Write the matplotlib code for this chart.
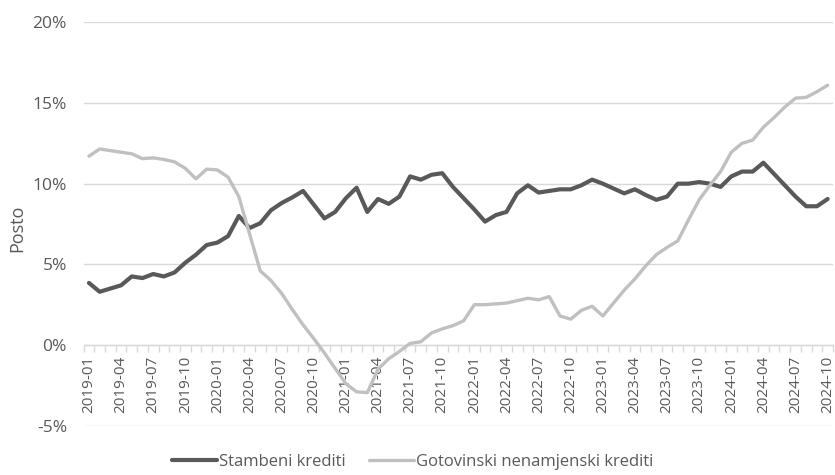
import matplotlib
matplotlib.use("Agg")
import matplotlib.pyplot as plt
from matplotlib.ticker import FixedLocator, FuncFormatter

# Monthly periods, 2019-01 .. 2024-10
months = [f"{y}-{m:02d}" for y in range(2019, 2025) for m in range(1, 13)][:70]

# Stambeni krediti (annual growth, %)
stambeni = [
    3.85, 3.3, 3.5, 3.7, 4.25, 4.15, 4.4, 4.25, 4.5, 5.1, 5.6, 6.2,
    6.35, 6.75, 8.0, 7.25, 7.55, 8.35, 8.8, 9.15, 9.55, 8.7, 7.85, 8.25,
    9.1, 9.75, 8.25, 9.05, 8.75, 9.2, 10.45, 10.25, 10.55, 10.65, 9.8, 9.1,
    8.4, 7.65, 8.05, 8.25, 9.4, 9.9, 9.45, 9.55, 9.65, 9.65, 9.9, 10.25,
    10.0, 9.7, 9.4, 9.65, 9.3, 9.0, 9.2, 10.0, 10.0, 10.1, 10.0, 9.8,
    10.45, 10.75, 10.75, 11.3, 10.6, 9.9, 9.2, 8.6, 8.6, 9.05,
]

# Gotovinski nenamjenski krediti (annual growth, %)
gotovinski = [
    11.7, 12.15, 12.05, 11.95, 11.85, 11.55, 11.6, 11.5, 11.35, 10.95, 10.3, 10.9,
    10.85, 10.4, 9.2, 6.9, 4.6, 4.0, 3.2, 2.2, 1.25, 0.4, -0.5, -1.45,
    -2.4, -2.9, -2.95, -1.5, -0.85, -0.4, 0.1, 0.2, 0.75, 1.0, 1.2, 1.5,
    2.5, 2.5, 2.55, 2.6, 2.75, 2.9, 2.8, 3.0, 1.8, 1.6, 2.15, 2.4,
    1.8, 2.6, 3.4, 4.1, 4.9, 5.6, 6.05, 6.45, 7.75, 9.0, 9.9, 10.75,
    11.95, 12.5, 12.7, 13.5, 14.1, 14.75, 15.3, 15.35, 15.7, 16.1,
]

series_names = ["Stambeni krediti", "Gotovinski nenamjenski krediti"]
y_ticks = [-5, 0, 5, 10, 15, 20]
y_label = "Posto"

plt.rcParams["font.family"] = ["Open Sans", "DejaVu Sans"]
text_col = "#595959"
grid_col = "#d9d9d9"

fig = plt.figure(figsize=(8.35, 4.75), dpi=100)
ax = fig.add_axes([0.1001, 0.1038, 0.8975, 0.8492])

x = list(range(len(months)))
ax.plot(x, stambeni, color="#595959", lw=3.0, solid_joinstyle="round",
        solid_capstyle="round", label=series_names[0], zorder=2)
ax.plot(x, gotovinski, color="#c0c0c0", lw=2.4, solid_joinstyle="round",
        solid_capstyle="round", label=series_names[1], zorder=3)

ax.set_xlim(-0.5, len(months) - 0.5)
ax.set_ylim(y_ticks[0], y_ticks[-1])

# horizontal gridlines
ax.set_yticks(y_ticks)
ax.yaxis.set_major_formatter(FuncFormatter(lambda v, p: f"{v:.0f}%"))
ax.grid(axis="y", color=grid_col, lw=1.0, zorder=0)
ax.tick_params(axis="y", length=0, pad=12, labelsize=12.5, labelcolor=text_col)

# category axis drawn along the 0% line
for s in ["top", "right", "left"]:
    ax.spines[s].set_visible(False)
ax.spines["bottom"].set_position(("data", 0))
ax.spines["bottom"].set_color(grid_col)
ax.spines["bottom"].set_linewidth(1.0)

label_pos = x[::3]
ax.xaxis.set_major_locator(FixedLocator(label_pos))
ax.set_xticklabels(months[::3], rotation=90)
ax.xaxis.set_minor_locator(FixedLocator([i - 0.5 for i in range(len(months) + 1)]))
ax.tick_params(axis="x", which="major", length=0, pad=8, labelsize=11,
               labelcolor=text_col)
ax.tick_params(axis="x", which="minor", length=5, width=1.0, color=grid_col,
               direction="out")

ax.set_ylabel(y_label, fontsize=13, color=text_col)
ax.yaxis.set_label_coords(-0.077, 0.49)

leg = fig.legend(loc="center", bbox_to_anchor=(0.494, 0.027), ncol=2,
                 frameon=False, fontsize=12, handlelength=2.7,
                 handletextpad=0.1, columnspacing=1.4)
for t in leg.get_texts():
    t.set_color(text_col)

fig.savefig("out.png", dpi=100)
